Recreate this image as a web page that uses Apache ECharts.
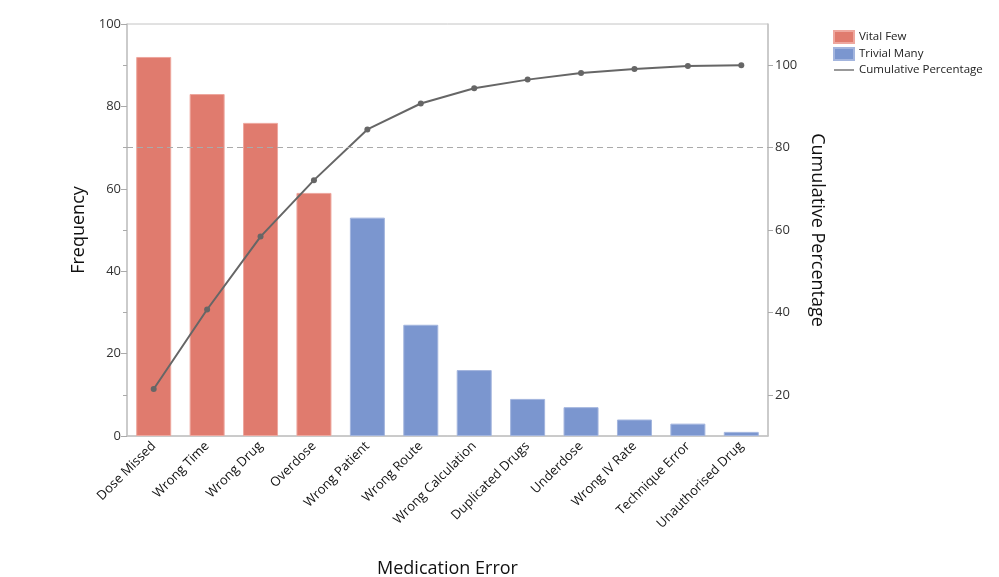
<!DOCTYPE html>
<html>
<head>
<meta charset="utf-8">
<script src="https://cdn.jsdelivr.net/npm/echarts@6/dist/echarts.min.js"></script>
<style>
html, body { margin: 0; padding: 0; background: #fff; }
#main { width: 999px; height: 577px; }
</style>
</head>
<body>
<div id="main"></div>
<script>
var categories = ['Dose Missed', 'Wrong Time', 'Wrong Drug', 'Overdose', 'Wrong Patient', 'Wrong Route',
    'Wrong Calculation', 'Duplicated Drugs', 'Underdose', 'Wrong IV Rate', 'Technique Error', 'Unauthorised Drug'];
var vitalFew = [92, 83, 76, 59, '-', '-', '-', '-', '-', '-', '-', '-'];
var trivialMany = ['-', '-', '-', '-', 53, 27, 16, 9, 7, 4, 3, 1];
var cumulative = [21.4, 40.7, 58.4, 72.1, 84.4, 90.7, 94.4, 96.5, 98.1, 99.1, 99.8, 100];
var rightTicks = [20, 40, 60, 80, 100];
var thresholdLine = 80;

var font = 'Open Sans';
var myChart = echarts.init(document.getElementById('main'));
var option = {
    animation: false,
    textStyle: { fontFamily: font },
    grid: {
        left: 127, right: 231, top: 24, bottom: 141,
        outerBoundsMode: 'none',
        containLabel: false,
        show: true, borderColor: '#c4c4c4', borderWidth: 1
    },
    legend: {
        orient: 'vertical',
        left: 828, top: 25,
        itemGap: 3,
        itemWidth: 20, itemHeight: 12,
        textStyle: { fontSize: 11.5, color: '#222', fontFamily: font },
        data: [
            { name: 'Vital Few', icon: 'rect' },
            { name: 'Trivial Many', icon: 'rect' },
            { name: 'Cumulative Percentage', icon: 'path://M0,5 L24,5 L24,6.6 L0,6.6 Z' }
        ]
    },
    xAxis: {
        type: 'category',
        data: categories,
        name: 'Medication Error',
        nameLocation: 'middle',
        nameGap: 124,
        nameTextStyle: { fontSize: 18, color: '#111' },
        axisLine: { lineStyle: { color: '#c4c4c4', width: 1.5 } },
        axisTick: { show: false },
        axisLabel: { rotate: 45, fontSize: 13, color: '#111', margin: 8, interval: 0 }
    },
    yAxis: [{
        type: 'value',
        min: 0, max: 100, interval: 20,
        name: 'Frequency',
        nameLocation: 'middle',
        nameGap: 33,
        nameTextStyle: { fontSize: 18, color: '#111' },
        axisLine: { show: true, lineStyle: { color: '#c4c4c4', width: 1.5 } },
        axisTick: { show: true, length: 6, lineStyle: { color: '#aaa' } },
        minorTick: { show: true, splitNumber: 2, length: 4, lineStyle: { color: '#aaa' } },
        splitLine: { show: false },
        axisLabel: { fontSize: 13, color: '#333', margin: 6 }
    }, {
        type: 'value',
        min: 10, max: 110,
        position: 'right',
        name: 'Cumulative Percentage',
        nameLocation: 'middle',
        nameRotate: -90,
        nameGap: 33,
        nameTextStyle: { fontSize: 18, color: '#111' },
        axisLine: { show: true, lineStyle: { color: '#c4c4c4', width: 1.5 } },
        axisTick: { show: true, length: 5, lineStyle: { color: '#aaa' }, customValues: rightTicks },
        splitLine: { show: false },
        axisLabel: { fontSize: 13, color: '#333', margin: 7, customValues: rightTicks }
    }],
    series: [{
        name: 'threshold',
        type: 'line',
        yAxisIndex: 1,
        z: 1,
        data: [],
        markLine: {
            silent: true,
            symbol: 'none',
            label: { show: false },
            lineStyle: { type: [6, 4], color: '#aaa', width: 1 },
            data: [{ yAxis: thresholdLine }]
        }
    }, {
        name: 'Vital Few',
        type: 'bar',
        stack: 'freq',
        z: 3,
        barWidth: 35,
        data: vitalFew,
        itemStyle: { color: '#e07b6e', borderColor: '#eea79e', borderWidth: 1 }
    }, {
        name: 'Trivial Many',
        type: 'bar',
        stack: 'freq',
        z: 3,
        barWidth: 35,
        data: trivialMany,
        itemStyle: { color: '#7b96cf', borderColor: '#a3b5de', borderWidth: 1 }
    }, {
        name: 'Cumulative Percentage',
        type: 'line',
        yAxisIndex: 1,
        z: 4,
        data: cumulative,
        symbol: 'circle',
        symbolSize: 6,
        lineStyle: { color: '#666', width: 2 },
        itemStyle: { color: '#666' }
    }]
};
myChart.setOption(option);
</script>
</body>
</html>
